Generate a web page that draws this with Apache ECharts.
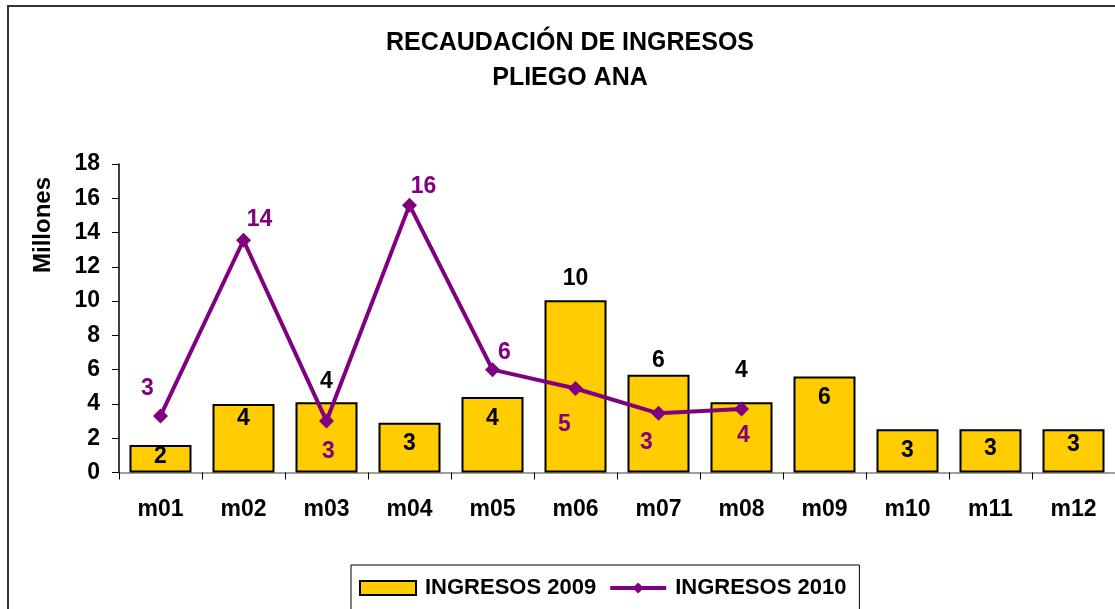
<!DOCTYPE html>
<html>
<head>
<meta charset="utf-8">
<title>Recaudación de ingresos - Pliego ANA</title>
<script src="https://cdn.jsdelivr.net/npm/echarts@6/dist/echarts.min.js"></script>
<style>
  html, body { margin: 0; padding: 0; background: #ffffff; }
  #chart { width: 1115px; height: 609px; }
</style>
</head>
<body>
<div id="chart"></div>
<script>
// Monthly revenue, in millions
const categories = ['m01', 'm02', 'm03', 'm04', 'm05', 'm06', 'm07', 'm08', 'm09', 'm10', 'm11', 'm12'];
const ingresos2009 = [1.6, 4.0, 4.1, 2.9, 4.4, 10.05, 5.7, 4.1, 5.6, 2.53, 2.53, 2.53];
const ingresos2010 = [3.3, 13.55, 3.0, 15.6, 6.0, 4.9, 3.45, 3.7];
const yMin = 0, yMax = 18, yStep = 2;

// Label placement (vertical offset of label centre from bar top; offsets from line points)
const barLabelDy = [12, 15, -21, 21, 22, -22, -14, -32, 21, 22, 20, 16];
const lineLabelOffset = [[-13, -27], [16, -21], [2, 31], [14, -18], [12, -17], [-11, 36], [-12, 29], [2, 27]];

const FONT = '"Liberation Sans", Arial, Helvetica, sans-serif';
const PURPLE = '#800080';
const GOLD = '#FFCC00';

const fmt = p => String(Math.round(p.value));

const barData = ingresos2009.map((v, i) => ({
  value: v,
  label: { offset: [0, barLabelDy[i]] }
}));
const lineData = ingresos2010.map((v, i) => ({
  value: v,
  label: { offset: lineLabelOffset[i] }
}));

const chart = echarts.init(document.getElementById('chart'), null, { renderer: 'canvas' });
chart.setOption({
  animation: false,
  backgroundColor: '#ffffff',
  textStyle: { fontFamily: FONT },
  title: {
    text: 'RECAUDACIÓN DE INGRESOS\nPLIEGO ANA',
    left: 565,
    top: 21,
    textAlign: 'center',
    textStyle: { fontFamily: FONT, fontWeight: 'bold', fontSize: 25, lineHeight: 35, color: '#000' }
  },
  graphic: [
    {
      type: 'rect',
      shape: { x: 8, y: 6, width: 1200, height: 700 },
      style: { fill: 'none', stroke: '#333333', lineWidth: 2 },
      silent: true
    },
    {
      type: 'text',
      x: 43,
      y: 225,
      rotation: Math.PI / 2,
      style: {
        text: 'Millones',
        fontFamily: FONT, fontWeight: 'bold', fontSize: 24, fill: '#000',
        align: 'center', verticalAlign: 'middle'
      }
    }
  ],
  legend: {
    left: 351,
    top: 565,
    padding: [11, 13, 30, 8],
    itemGap: 12,
    itemWidth: 56,
    itemHeight: 14,
    borderColor: '#000',
    borderWidth: 1,
    textStyle: { fontFamily: FONT, fontWeight: 'bold', fontSize: 22, color: '#000', lineHeight: 24, padding: [0, 0, 0, 4] },
    data: [
      { name: 'INGRESOS 2009', icon: 'rect', itemStyle: { color: GOLD, borderColor: '#000', borderWidth: 2 } },
      { name: 'INGRESOS 2010', lineStyle: { color: PURPLE, width: 4 }, itemStyle: { color: PURPLE } }
    ]
  },
  grid: { left: 119, top: 164, width: 1001, height: 308.5, containLabel: false },
  xAxis: {
    type: 'category',
    data: categories,
    boundaryGap: true,
    axisLine: { lineStyle: { color: '#808080', width: 1.5 } },
    axisTick: { show: true, alignWithLabel: false, length: 7, inside: false, lineStyle: { color: '#000' } },
    axisLabel: { margin: 26, fontFamily: FONT, fontWeight: 'bold', fontSize: 23, color: '#000' },
    splitLine: { show: false }
  },
  yAxis: {
    type: 'value',
    min: yMin,
    max: yMax,
    interval: yStep,
    axisLine: { show: true, lineStyle: { color: '#000', width: 1.5 } },
    axisTick: { show: true, length: 7, lineStyle: { color: '#000' } },
    axisLabel: { margin: 19, fontFamily: FONT, fontWeight: 'bold', fontSize: 23, color: '#000' },
    splitLine: { show: false }
  },
  series: [
    {
      name: 'INGRESOS 2009',
      type: 'bar',
      data: barData,
      barWidth: 62,
      itemStyle: { color: GOLD, borderColor: '#000', borderWidth: 2 },
      label: {
        show: true,
        position: 'insideTop',
        distance: 0,
        verticalAlign: 'middle',
        formatter: fmt,
        fontFamily: FONT, fontWeight: 'bold', fontSize: 23, color: '#000'
      },
      z: 2
    },
    {
      name: 'INGRESOS 2010',
      type: 'line',
      data: lineData,
      symbol: 'diamond',
      symbolSize: 15,
      lineStyle: { color: PURPLE, width: 4 },
      itemStyle: { color: PURPLE },
      label: {
        show: true,
        position: 'inside',
        formatter: fmt,
        fontFamily: FONT, fontWeight: 'bold', fontSize: 23, color: PURPLE
      },
      z: 5
    }
  ]
});
</script>
</body>
</html>
